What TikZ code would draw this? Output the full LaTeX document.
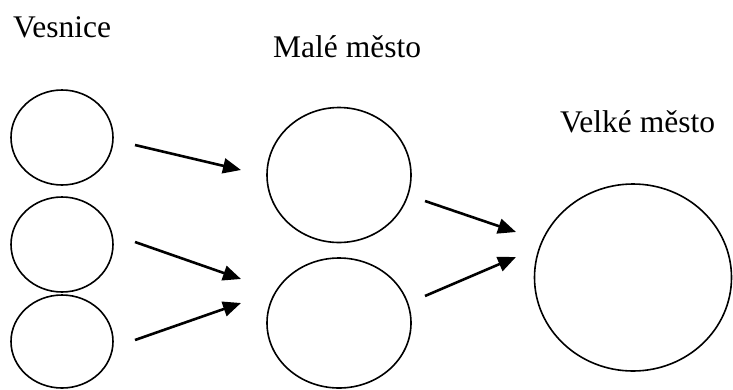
\documentclass[tikz,border=0pt]{standalone}
\usepackage{fontspec}
\setmainfont{Liberation Serif}
\usetikzlibrary{arrows.meta}
\usetikzlibrary{shapes}

\tikzset{
  town/.style={draw, ellipse, line width=1.6pt, inner sep=0pt},
  flow/.style={line width=2.6pt, -{Triangle[length=18pt,width=15pt]}},
  label/.style={anchor=base west, inner sep=0pt, font=\fontsize{31.5}{36}\selectfont}
}

\begin{document}
\begin{tikzpicture}[x=1pt, y=-1pt]
        \useasboundingbox (0, 0) rectangle (733, 389);
        \node[label] (lv) at (13, 37) {Vesnice};
        \node[label] (lm) at (273, 57) {Malé město};
        \node[label] (lc) at (560, 132) {Velké město};
        \node[town, minimum width=102pt, minimum height=95pt] (v1) at (62, 137.5) {};
        \node[town, minimum width=102pt, minimum height=95pt] (v2) at (62, 244.5) {};
        \node[town, minimum width=102pt, minimum height=93pt] (v3) at (62, 341.5) {};
        \node[town, minimum width=144pt, minimum height=135pt] (m1) at (339, 175) {};
        \node[town, minimum width=144pt, minimum height=130pt] (m2) at (339, 323) {};
        \node[town, minimum width=197pt, minimum height=187pt] (c) at (633, 277.5) {};
        \coordinate (v1o) at (135, 145);
        \coordinate (v2o) at (135, 242);
        \coordinate (v3o) at (135, 340);
        \coordinate (m1i) at (241, 170);
        \coordinate (m2i) at (241, 279);
        \coordinate (m2j) at (241, 303);
        \coordinate (m1o) at (425, 201);
        \coordinate (m2o) at (425, 296);
        \coordinate (ci) at (516, 232);
        \coordinate (cj) at (516, 257);
        \draw[flow] (v1o) -- (m1i);
        \draw[flow] (v2o) -- (m2i);
        \draw[flow] (v3o) -- (m2j);
        \draw[flow] (m1o) -- (ci);
        \draw[flow] (m2o) -- (cj);
      \end{tikzpicture}
\end{document}
